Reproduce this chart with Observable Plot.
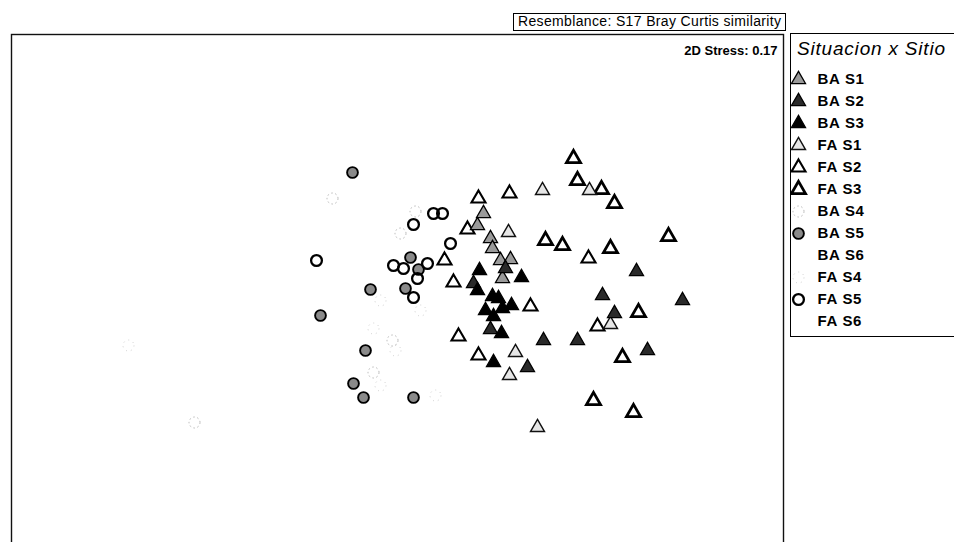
<!DOCTYPE html>
<html>
<head>
<meta charset="utf-8">
<script src="https://cdn.jsdelivr.net/npm/d3@7"></script>
<script src="https://cdn.jsdelivr.net/npm/@observablehq/plot@0.6"></script>
<style>
  html, body { margin: 0; padding: 0; background: #fff; overflow: hidden; width: 954px; height: 542px; }
  #wrap { position: relative; width: 954px; height: 542px; overflow: hidden; font-family: "Liberation Sans", Arial, sans-serif; color: #000; }
  #chart { position: absolute; left: 0; top: 0; }
  #resem { position: absolute; left: 513px; top: 13px; width: 267px; height: 16px; border: 1px solid #000; font-size: 14px; line-height: 15px; padding-left: 4px; letter-spacing: 0.35px; white-space: nowrap; }
  #legend { position: absolute; left: 790px; top: 33px; width: 220px; height: 302px; border: 1px solid #000; }
  #legend .title { position: absolute; left: 6px; top: 4px; font-size: 19px; font-style: italic; line-height: 22px; letter-spacing: 0.8px; white-space: nowrap; }
  #legendPlot { position: absolute; left: 0; top: 0; }
</style>
</head>
<body>
<div id="wrap">
  <div id="chart"></div>
  <div id="resem">Resemblance: S17 Bray Curtis similarity</div>
  <div id="legend"><div class="title">Situacion x Sitio</div><div id="legendPlot"></div></div>
</div>
<script>
// ---- Data: nMDS coordinates [MDS1, MDS2] per Situacion x Sitio group ----
const BA_S1 = [[0.43,0.40],[0.40,0.34],[0.465,0.275],[0.475,0.225],[0.515,0.165],[0.565,0.17],[0.525,0.075]];
const BA_S2 = [[0.54,0.125],[0.38,0.05],[0.465,-0.18],[0.73,-0.235],[0.90,-0.235],[0.65,-0.37],[1.195,0.11],[1.025,-0.01],[1.425,-0.035],[1.085,-0.10],[1.25,-0.285]];
const BA_S3 = [[0.62,0.08],[0.41,0.115],[0.40,0.015],[0.475,-0.015],[0.505,-0.025],[0.57,-0.06],[0.44,-0.085],[0.48,-0.115],[0.525,-0.075],[0.52,-0.20],[0.48,-0.345]];
const FA_S1 = [[0.725,0.515],[0.96,0.515],[0.555,0.305],[0.59,-0.295],[0.56,-0.41],[0.70,-0.67],[1.065,-0.155]];
const FA_S2 = [[0.56,0.50],[0.405,0.475],[0.35,0.32],[0.955,0.175],[0.235,0.165],[0.28,0.055],[0.665,-0.065],[0.305,-0.215],[0.405,-0.31],[1.00,-0.165]];
const FA_S3 = [[0.88,0.675],[0.90,0.565],[1.02,0.52],[1.085,0.45],[0.74,0.265],[0.825,0.24],[1.065,0.225],[1.355,0.285],[0.98,-0.535],[1.18,-0.595],[1.205,-0.095],[1.125,-0.32]];
const BA_S4 = [[-0.325,0.475],[0.09,0.41],[0.015,0.30],[-0.025,-0.235],[-0.12,-0.395],[-1.015,-0.645]];
const BA_S5 = [[-0.225,0.605],[0.065,0.18],[0.105,0.12],[-0.135,0.02],[0.04,0.025],[-0.385,-0.11],[-0.16,-0.285],[-0.22,-0.45],[-0.17,-0.52],[0.08,-0.52]];
const BA_S6 = [];
const FA_S4 = [[-1.345,-0.26],[-0.085,-0.035],[0.115,-0.085],[-0.12,-0.175],[-0.01,-0.285],[-0.085,-0.46],[0.19,-0.51]];
const FA_S5 = [[0.18,0.40],[0.225,0.40],[0.08,0.345],[0.265,0.25],[-0.405,0.165],[-0.02,0.14],[0.03,0.125],[0.15,0.15],[0.10,0.075],[0.08,-0.02]];
const FA_S6 = [];

const legendNames = ["BA S1","BA S2","BA S3","FA S1","FA S2","FA S3","BA S4","BA S5","BA S6","FA S4","FA S5","FA S6"];
const groupData = {"BA S1":BA_S1,"BA S2":BA_S2,"BA S3":BA_S3,"FA S1":FA_S1,"FA S2":FA_S2,"FA S3":FA_S3,"BA S4":BA_S4,"BA S5":BA_S5,"BA S6":BA_S6,"FA S4":FA_S4,"FA S5":FA_S5,"FA S6":FA_S6};
const drawOrder = ["BA S4","FA S4","BA S6","FA S6","BA S5","FA S5","FA S3","FA S2","FA S1","BA S1","BA S2","BA S3"];
const stressText = "2D Stress: 0.17";

// ---- Styles ----
const tri = "triangle", circ = "circle";
const styles = {
  "BA S1": {symbol: tri, r: 5.2, fill: "#9a9a9a", stroke: "#000", strokeWidth: 1.3},
  "BA S2": {symbol: tri, r: 5.2, fill: "#2a2a2a", stroke: "#000", strokeWidth: 1.3},
  "BA S3": {symbol: tri, r: 5.2, fill: "#000", stroke: "#000", strokeWidth: 1.3},
  "FA S1": {symbol: tri, r: 5.2, fill: "#e6e6e6", stroke: "#111", strokeWidth: 1.4},
  "FA S2": {symbol: tri, r: 5.2, fill: "#fff", stroke: "#000", strokeWidth: 2.1},
  "FA S3": {symbol: tri, r: 5.2, fill: "#fff", stroke: "#000", strokeWidth: 2.8},
  "BA S4": {symbol: circ, r: 5.5, fill: "none", stroke: "#b5b5b5", strokeWidth: 1, strokeDasharray: "1.5,2.5"},
  "BA S5": {symbol: circ, r: 5.4, fill: "#8a8a8a", stroke: "#000", strokeWidth: 1.9},
  "BA S6": {symbol: circ, r: 5, fill: "none", stroke: "#fff", strokeWidth: 1},
  "FA S4": {symbol: circ, r: 5.5, fill: "none", stroke: "#cfcfcf", strokeWidth: 1, strokeDasharray: "1,4"},
  "FA S5": {symbol: circ, r: 5.4, fill: "none", stroke: "#000", strokeWidth: 2.3},
  "FA S6": {symbol: circ, r: 5, fill: "none", stroke: "#fff", strokeWidth: 1}
};

const font = '"Liberation Sans", Arial, sans-serif';

// ---- Main ordination plot ----
const marks = [Plot.frame({stroke: "#111", strokeWidth: 1.4})];
for (const g of drawOrder) {
  const pts = groupData[g];
  if (!pts.length) continue;
  marks.push(Plot.dot(pts, {x: d => d[0], y: d => d[1], ...styles[g]}));
}
marks.push(Plot.text([stressText], {frameAnchor: "top-right", textAnchor: "end", lineAnchor: "top", dx: -6, dy: 11, fontSize: 13, fontWeight: "bold", fill: "#000"}));

const chart = Plot.plot({
  width: 954,
  height: 560,
  marginLeft: 11,
  marginRight: 171,
  marginTop: 34,
  marginBottom: 8,
  x: {domain: [-1.93, 1.93], axis: null},
  y: {domain: [-1.295, 1.295], axis: null},
  style: {fontFamily: font, background: "transparent", overflow: "hidden"},
  marks
});
document.getElementById("chart").append(chart);

// ---- Legend ----
const legendRows = legendNames.map(name => ({name}));
const legendMarks = [];
for (const g of legendNames) {
  legendMarks.push(Plot.dot(legendRows.filter(d => d.name === g), {x: () => "symbol", y: "name", ...styles[g]}));
}
legendMarks.push(Plot.text(legendRows, {x: () => "label", y: "name", text: "name", textAnchor: "start", fontSize: 15, fontWeight: "bold", fill: "#000"}));
const legend = Plot.plot({
  width: 200,
  height: 302,
  margin: 0,
  x: {type: "point", domain: ["symbol", "label"], range: [7, 26], padding: 0, axis: null},
  y: {type: "point", domain: legendNames, range: [40, 292], padding: 0, axis: null},
  style: {fontFamily: font, background: "transparent", letterSpacing: "0.7px"},
  marks: legendMarks
});
document.getElementById("legendPlot").append(legend);
</script>
</body>
</html>
